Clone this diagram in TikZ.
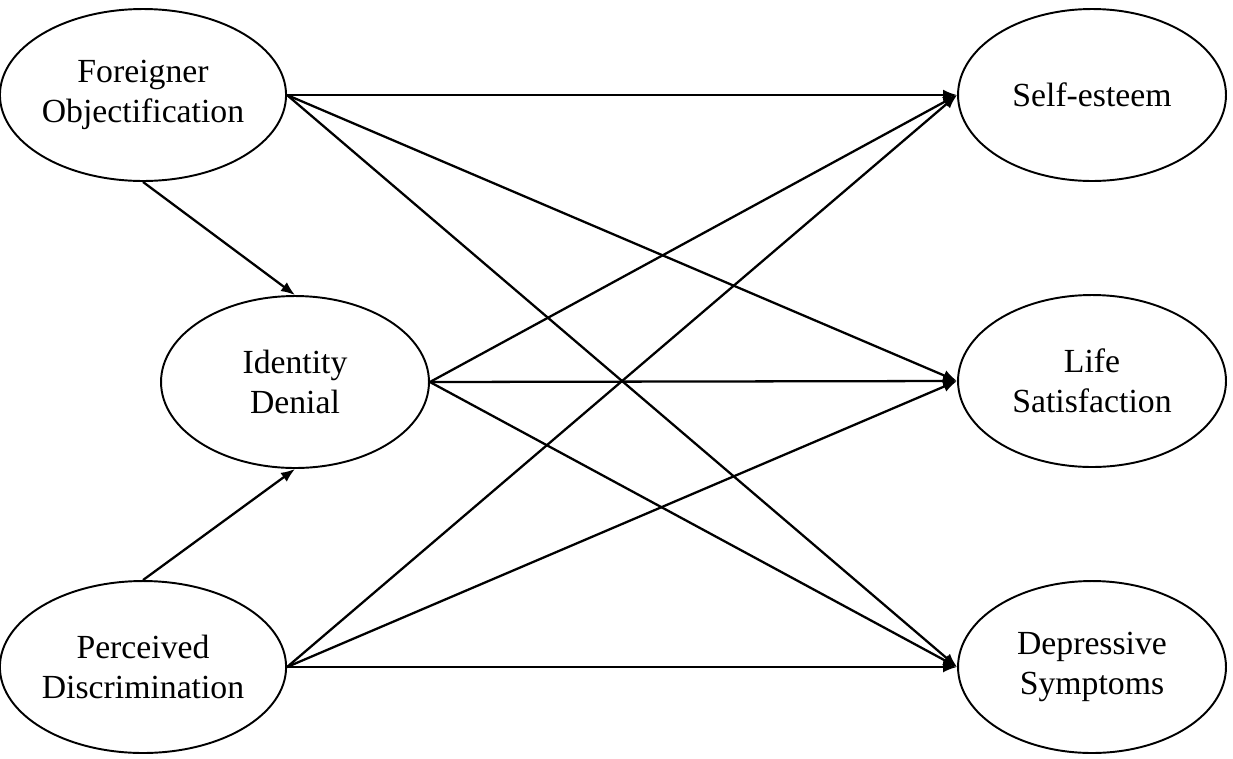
\documentclass[tikz,border=0pt]{standalone}
\usepackage{fontspec}
\setmainfont{Liberation Serif}
\usetikzlibrary{shapes.geometric,arrows.meta}
\begin{document}
\begin{tikzpicture}[x=0.02cm,y=-0.02cm,
  var/.style={ellipse,draw,line width=1.1pt,inner sep=0pt,minimum width=5.36cm,minimum height=3.44cm,align=center,font=\fontsize{19.2}{22.5}\selectfont},
  path/.style={line width=1.3pt,-{Latex[length=0.28cm,width=0.22cm]}}]
\useasboundingbox (0,0) rectangle (1233,758);
\node[var] (fo) at (143,95) {Foreigner\\Objectification};
\node[var] (id) at (295,382) {Identity\\Denial};
\node[var] (pd) at (143,667) {Perceived\\Discrimination};
\node[var] (se) at (1092,95) {Self-esteem};
\node[var] (ls) at (1092,381) {Life\\Satisfaction};
\node[var] (ds) at (1092,667) {Depressive\\Symptoms};
\draw[path] (fo.south) -- (id.north);
\draw[path] (pd.north) -- (id.south);
\foreach \s in {fo,id,pd}{
  \foreach \t in {se,ls,ds}{
    \draw[path] (\s.east) -- (\t.west);
  }
}
\end{tikzpicture}
\end{document}
